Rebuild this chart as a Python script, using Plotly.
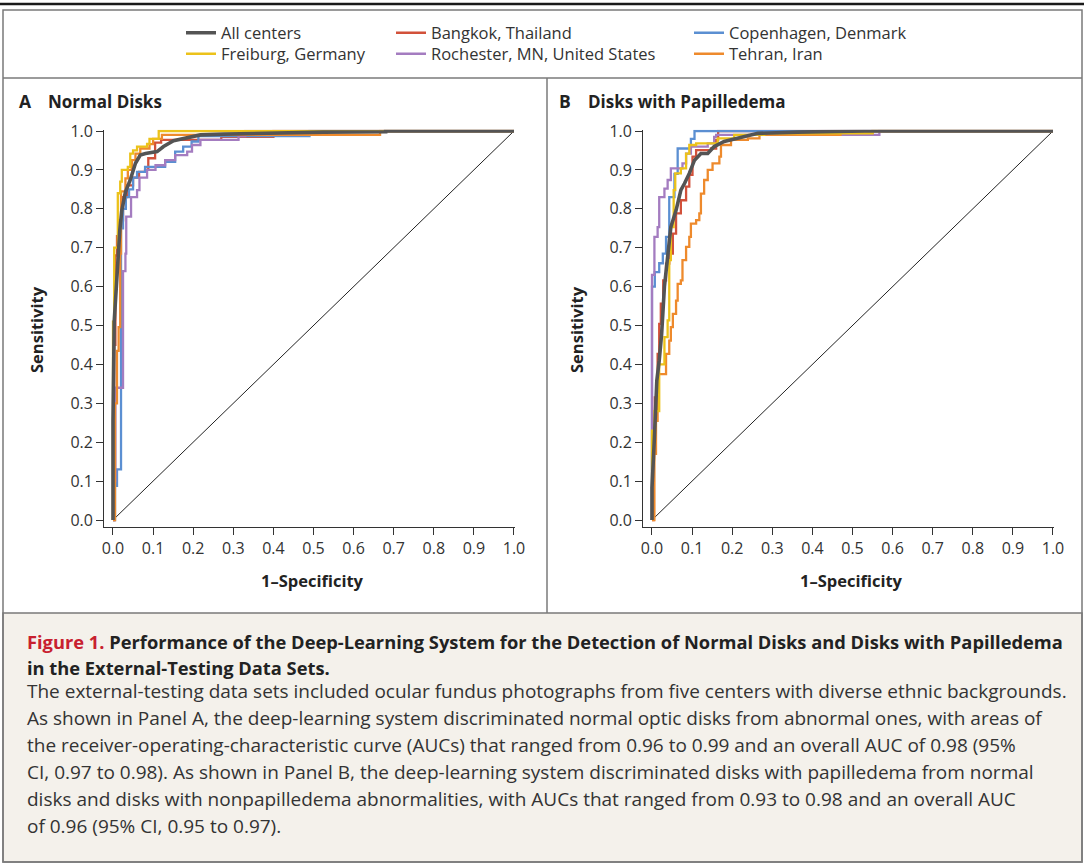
import plotly.graph_objects as go

W, H = 1084, 865

# ---------------- data ----------------
centers = ["All centers", "Bangkok, Thailand", "Copenhagen, Denmark",
           "Freiburg, Germany", "Rochester, MN, United States", "Tehran, Iran"]
colors = {"All centers": "#545454", "Bangkok, Thailand": "#d2513a",
          "Copenhagen, Denmark": "#5b8fd2", "Freiburg, Germany": "#ecc21a",
          "Rochester, MN, United States": "#a47cc0", "Tehran, Iran": "#ee8a2c"}

# Panel A: Normal disks (1-specificity, sensitivity)
A_all_fpr = [0, 0, 0.003, 0.010, 0.017, 0.022, 0.031, 0.043, 0.056, 0.068, 0.081, 0.110, 0.126, 0.151, 0.193, 0.218, 0.276, 0.360, 0.490, 0.525, 0.680, 0.680, 1.0]
A_all_tpr = [0, 0.255, 0.51, 0.64, 0.745, 0.796, 0.843, 0.874, 0.917, 0.938, 0.942, 0.947, 0.960, 0.975, 0.985, 0.990, 0.992, 0.994, 0.996, 0.997, 0.998, 1.0, 1.0]
A_bkk_fpr = [0, 0.003, 0.006, 0.010, 0.015, 0.025, 0.035, 0.050, 0.065, 0.080, 0.088, 0.105, 0.120, 0.270, 0.400, 1.0]
A_bkk_tpr = [0, 0.45, 0.68, 0.73, 0.77, 0.83, 0.86, 0.88, 0.895, 0.90, 0.93, 0.97, 0.977, 0.985, 1.0, 1.0]
A_cph_fpr = [0, 0.005, 0.010, 0.020, 0.020, 0.025, 0.032, 0.040, 0.050, 0.060, 0.080, 0.130, 0.155, 0.175, 0.196, 0.213, 0.490, 1.0]
A_cph_tpr = [0, 0.088, 0.13, 0.62, 0.75, 0.80, 0.83, 0.85, 0.88, 0.895, 0.908, 0.921, 0.947, 0.96, 0.973, 0.987, 1.0, 1.0]
A_frb_fpr = [0, 0.0, 0.003, 0.012, 0.018, 0.022, 0.037, 0.043, 0.050, 0.060, 0.085, 0.091, 0.114, 1.0]
A_frb_tpr = [0, 0.51, 0.70, 0.84, 0.87, 0.90, 0.908, 0.942, 0.95, 0.96, 0.967, 0.98, 1.0, 1.0]
A_roc_fpr = [0, 0.003, 0.006, 0.025, 0.031, 0.033, 0.045, 0.060, 0.066, 0.085, 0.106, 0.130, 0.155, 0.185, 0.197, 0.218, 0.313, 0.330, 1.0]
A_roc_tpr = [0, 0.10, 0.34, 0.64, 0.685, 0.78, 0.83, 0.848, 0.88, 0.90, 0.912, 0.925, 0.938, 0.947, 0.964, 0.977, 0.987, 1.0, 1.0]
A_thr_fpr = [0, 0.005, 0.010, 0.014, 0.018, 0.020, 0.031, 0.037, 0.047, 0.056, 0.068, 0.091, 0.100, 0.122, 0.666, 1.0]
A_thr_tpr = [0, 0.30, 0.435, 0.496, 0.685, 0.845, 0.878, 0.90, 0.925, 0.942, 0.955, 0.966, 0.98, 0.99, 1.0, 1.0]

# Panel B: Disks with papilledema
B_all_fpr = [0, 0.0, 0.006, 0.012, 0.018, 0.024, 0.031, 0.039, 0.047, 0.060, 0.072, 0.081, 0.093, 0.106, 0.122, 0.139, 0.155, 0.180, 0.214, 0.264, 0.363, 0.530, 1.0]
B_all_tpr = [0, 0.083, 0.212, 0.358, 0.41, 0.478, 0.60, 0.685, 0.753, 0.796, 0.848, 0.865, 0.891, 0.925, 0.942, 0.942, 0.96, 0.973, 0.981, 0.994, 0.997, 1.0, 1.0]
B_bkk_fpr = [0, 0.004, 0.007, 0.014, 0.018, 0.022, 0.028, 0.035, 0.043, 0.052, 0.060, 0.072, 0.085, 0.093, 0.101, 0.110, 0.147, 0.160, 0.165, 1.0]
B_bkk_tpr = [0, 0.20, 0.315, 0.427, 0.504, 0.556, 0.616, 0.659, 0.685, 0.736, 0.788, 0.822, 0.857, 0.887, 0.934, 0.951, 0.955, 0.977, 1.0, 1.0]
B_cph_fpr = [0, 0.0, 0.007, 0.018, 0.027, 0.035, 0.043, 0.056, 0.064, 0.097, 0.106, 1.0]
B_cph_tpr = [0, 0.60, 0.637, 0.66, 0.685, 0.728, 0.83, 0.89, 0.955, 0.98, 1.0, 1.0]
B_frb_fpr = [0, 0.0, 0.006, 0.018, 0.031, 0.039, 0.043, 0.047, 0.054, 0.058, 0.072, 0.085, 0.093, 0.110, 0.164, 0.205, 0.280, 0.550, 1.0]
B_frb_tpr = [0, 0.23, 0.28, 0.40, 0.47, 0.513, 0.668, 0.753, 0.848, 0.891, 0.904, 0.942, 0.964, 0.968, 0.981, 0.99, 0.994, 1.0, 1.0]
B_roc_fpr = [0, 0.0, 0.006, 0.014, 0.018, 0.031, 0.039, 0.047, 0.076, 0.085, 0.097, 0.139, 0.155, 0.160, 0.567, 0.567, 1.0]
B_roc_tpr = [0, 0.63, 0.728, 0.753, 0.83, 0.852, 0.874, 0.904, 0.917, 0.942, 0.96, 0.968, 0.985, 0.99, 0.99, 1.0, 1.0]
B_thr_fpr = [0, 0.006, 0.010, 0.014, 0.035, 0.043, 0.047, 0.052, 0.060, 0.064, 0.072, 0.076, 0.085, 0.093, 0.097, 0.110, 0.118, 0.122, 0.130, 0.139, 0.151, 0.168, 0.172, 0.197, 0.239, 0.268, 0.470, 0.550, 1.0]
B_thr_tpr = [0, 0.17, 0.255, 0.375, 0.427, 0.461, 0.496, 0.53, 0.564, 0.607, 0.616, 0.668, 0.702, 0.728, 0.762, 0.771, 0.788, 0.839, 0.874, 0.90, 0.917, 0.934, 0.964, 0.977, 0.981, 0.99, 0.995, 1.0, 1.0]

ticks = [0.0, 0.1, 0.2, 0.3, 0.4, 0.5, 0.6, 0.7, 0.8, 0.9, 1.0]
tick_text = ["0.0", "0.1", "0.2", "0.3", "0.4", "0.5", "0.6", "0.7", "0.8", "0.9", "1.0"]
diag = [0.0, 1.0]

panel_A = {"Bangkok, Thailand": (A_bkk_fpr, A_bkk_tpr), "Copenhagen, Denmark": (A_cph_fpr, A_cph_tpr),
           "Rochester, MN, United States": (A_roc_fpr, A_roc_tpr), "Tehran, Iran": (A_thr_fpr, A_thr_tpr),
           "Freiburg, Germany": (A_frb_fpr, A_frb_tpr), "All centers": (A_all_fpr, A_all_tpr)}
panel_B = {"Bangkok, Thailand": (B_bkk_fpr, B_bkk_tpr), "Copenhagen, Denmark": (B_cph_fpr, B_cph_tpr),
           "Rochester, MN, United States": (B_roc_fpr, B_roc_tpr), "Tehran, Iran": (B_thr_fpr, B_thr_tpr),
           "Freiburg, Germany": (B_frb_fpr, B_frb_tpr), "All centers": (B_all_fpr, B_all_tpr)}

# legend grid: (legend id, column left px, row centre px)
legend_of = {"All centers": ("legend", 181, 33), "Bangkok, Thailand": ("legend2", 391, 33),
             "Copenhagen, Denmark": ("legend3", 689, 33), "Freiburg, Germany": ("legend4", 181, 54),
             "Rochester, MN, United States": ("legend5", 391, 54), "Tehran, Iran": ("legend6", 689, 54)}

FONT = "Open Sans"
TXT = "#333333"

def X(px):
    return px / W

def Y(py):
    return 1 - py / H

fig = go.Figure()

for (panel, xa, ya, show) in [(panel_A, "x", "y", True), (panel_B, "x2", "y2", False)]:
    fig.add_trace(go.Scatter(x=diag, y=diag, mode="lines", xaxis=xa, yaxis=ya,
                             line=dict(color="#222222", width=1), showlegend=False, hoverinfo="skip"))
    for name, (fx, ty) in panel.items():
        lg = legend_of[name][0]
        is_all = name == "All centers"
        fig.add_trace(go.Scatter(
            x=fx, y=ty, mode="lines", name=name, xaxis=xa, yaxis=ya,
            line=dict(color=colors[name], width=3.6 if is_all else 2.3,
                      shape="linear" if is_all else "hv"),
            legendgroup=name, showlegend=show, legend=lg))

# axes geometry (pixels)
xr = [-0.022, 1.003]
yr = [-0.018, 1.003]
ppx = 401.0
ax_x0 = 113
bx_x0 = 652
y0_px, ppy = 520.0, 389.0

def xdom(x0):
    return [X(x0 + xr[0] * ppx), X(x0 + xr[1] * ppx)]

ydom = [Y(y0_px - yr[0] * ppy), Y(y0_px - yr[1] * ppy)]

axis_common = dict(range=xr, tickvals=ticks, ticktext=tick_text, showgrid=False, zeroline=False,
                   showline=True, linecolor="#333333", linewidth=1.2, ticks="outside",
                   ticklen=7, tickwidth=1.2, tickcolor="#333333", automargin=False,
                   tickfont=dict(family=FONT, size=16, color=TXT), fixedrange=True)
yaxis_common = dict(axis_common)
yaxis_common["range"] = yr

fig.update_layout(
    xaxis=dict(axis_common, domain=xdom(ax_x0), anchor="y"),
    yaxis=dict(yaxis_common, domain=ydom, anchor="x"),
    xaxis2=dict(axis_common, domain=xdom(bx_x0), anchor="y2"),
    yaxis2=dict(yaxis_common, domain=ydom, anchor="x2"),
)

leg_common = dict(orientation="v", yanchor="middle", xanchor="left", bgcolor="rgba(0,0,0,0)",
                  font=dict(family=FONT, size=16.5, color=TXT), tracegroupgap=0, itemwidth=30)
legends = {}
for name, (lg, lx, ly) in legend_of.items():
    legends[lg] = dict(leg_common, x=X(lx), y=Y(ly))
fig.update_layout(**legends)

# frames
GRAY = "#7a7a7a"
shapes = [
    dict(type="line", xref="paper", yref="paper", x0=0, x1=1, y0=Y(4), y1=Y(4),
         line=dict(color="#1a1a1a", width=2.5)),
    dict(type="rect", xref="paper", yref="paper", x0=X(3), x1=X(1082), y0=Y(613), y1=Y(862),
         fillcolor="#f4f1eb", line=dict(color=GRAY, width=1.5), layer="below"),
    dict(type="rect", xref="paper", yref="paper", x0=X(3), x1=X(1082), y0=Y(10), y1=Y(862),
         line=dict(color=GRAY, width=1.5)),
    dict(type="line", xref="paper", yref="paper", x0=X(3), x1=X(1082), y0=Y(78), y1=Y(78),
         line=dict(color=GRAY, width=1.5)),
    dict(type="line", xref="paper", yref="paper", x0=X(547), x1=X(547), y0=Y(78), y1=Y(613),
         line=dict(color=GRAY, width=1.5)),
]
fig.update_layout(shapes=shapes)

ann = []
def add_text(px, py, text, size, bold=False, color=TXT, xanchor="left", angle=0):
    ann.append(dict(xref="paper", yref="paper", x=X(px), y=Y(py), text=f"<b>{text}</b>" if bold else text,
                    showarrow=False, xanchor=xanchor, yanchor="middle", textangle=angle,
                    font=dict(family=FONT, size=size, color=color)))

add_text(17, 101, "A", 17.5, bold=True, color="#222222")
add_text(46, 101, "Normal Disks", 17, bold=True, color="#222222")
add_text(557, 101, "B", 17.5, bold=True, color="#222222")
add_text(586, 101, "Disks with Papilledema", 17, bold=True, color="#222222")
add_text(37, 330, "Sensitivity", 16.5, bold=True, color="#222222", xanchor="center", angle=-90)
add_text(577, 330, "Sensitivity", 16.5, bold=True, color="#222222", xanchor="center", angle=-90)
add_text(312, 580, "1\u2013Specificity", 16.5, bold=True, color="#222222", xanchor="center")
add_text(851, 580, "1\u2013Specificity", 16.5, bold=True, color="#222222", xanchor="center")

caption_title = ["<span style='color:#c8202f'>Figure 1.</span> Performance of the Deep-Learning System for the Detection of Normal Disks and Disks with Papilledema",
                 "in the External-Testing Data Sets."]
caption_body = ["The external-testing data sets included ocular fundus photographs from five centers with diverse ethnic backgrounds.",
                "As shown in Panel A, the deep-learning system discriminated normal optic disks from abnormal ones, with areas of",
                "the receiver-operating-characteristic curve (AUCs) that ranged from 0.96 to 0.99 and an overall AUC of 0.98 (95%",
                "CI, 0.97 to 0.98). As shown in Panel B, the deep-learning system discriminated disks with papilledema from normal",
                "disks and disks with nonpapilledema abnormalities, with AUCs that ranged from 0.93 to 0.98 and an overall AUC",
                "of 0.96 (95% CI, 0.95 to 0.97)."]
for i, t in enumerate(caption_title):
    add_text(25, 641 + 26 * i, t, 18.3, bold=True, color="#222222")
for i, t in enumerate(caption_body):
    add_text(25, 691 + 27 * i, t, 19.0, color=TXT)

fig.update_layout(annotations=ann, width=W, height=H,
                  margin=dict(l=0, r=0, t=0, b=0, autoexpand=False),
                  paper_bgcolor="white", plot_bgcolor="rgba(0,0,0,0)")

fig.write_html("out.html",
               post_script="document.body.style.margin='0';document.body.style.overflow='hidden';",
               config={"displayModeBar": False})
